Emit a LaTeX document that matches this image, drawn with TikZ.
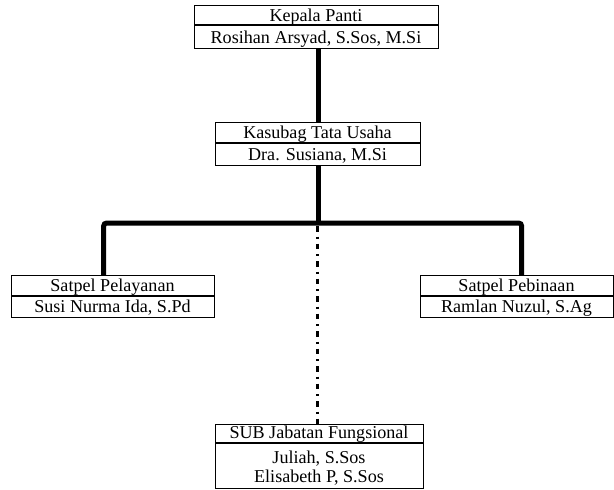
\documentclass[tikz,border=0pt]{standalone}
\usepackage{fontspec}
\setmainfont{Liberation Serif}
\begin{document}
\begin{tikzpicture}[x=1pt,y=-1pt,
  box/.style={draw, line width=1.3pt, inner sep=0pt, anchor=north west},
  divider/.style={line width=1.3pt},
  txt/.style={inner sep=0pt, anchor=base, font=\fontsize{18.1}{20}\selectfont},
  conn/.style={line width=5pt},
  dotline/.style={line width=2.2pt, dash pattern=on 5.5pt off 5pt on 2pt off 5pt}]
\useasboundingbox (0,0) rectangle (614,490);
% boxes
\node[box, minimum width=244pt, minimum height=43pt] (kp) at (194,5) {};
\draw[divider] ([yshift=-20pt]kp.north west) -- ([yshift=-20pt]kp.north east);
\node[txt] (kp1) at (316,21.5) {Kepala Panti};
\node[txt] (kp2) at (316,43) {Rosihan Arsyad, S.Sos, M.Si};

\node[box, minimum width=205pt, minimum height=43pt] (ks) at (215,122) {};
\draw[divider] ([yshift=-21pt]ks.north west) -- ([yshift=-21pt]ks.north east);
\node[txt] (ks1) at (317.5,138.5) {Kasubag Tata Usaha};
\node[txt] (ks2) at (317.5,160) {Dra. Susiana, M.Si};

\node[box, minimum width=203pt, minimum height=42pt] (sp) at (11,275) {};
\draw[divider] ([yshift=-21pt]sp.north west) -- ([yshift=-21pt]sp.north east);
\node[txt] (sp1) at (112.5,291.5) {Satpel Pelayanan};
\node[txt] (sp2) at (112.5,312.5) {Susi Nurma Ida, S.Pd};

\node[box, minimum width=193pt, minimum height=42pt] (sb) at (420,275) {};
\draw[divider] ([yshift=-21pt]sb.north west) -- ([yshift=-21pt]sb.north east);
\node[txt] (sb1) at (516.5,291.5) {Satpel Pebinaan};
\node[txt] (sb2) at (516.5,312.5) {Ramlan Nuzul, S.Ag};

\node[box, minimum width=208pt, minimum height=64pt] (sj) at (215,424) {};
\draw[divider] ([yshift=-19pt]sj.north west) -- ([yshift=-19pt]sj.north east);
\node[txt] (sj1) at (319,438.5) {SUB Jabatan Fungsional};
\node[txt] (sj2) at (319,463) {Juliah, S.Sos};
\node[txt] (sj3) at (319,482) {Elisabeth P, S.Sos};

% connectors
\coordinate (bar) at (317.5,223);
\draw[conn] (ks.north) -- (ks.north |- kp.south);
\draw[conn] (ks.south) -- (ks.south |- bar);
\draw[conn, rounded corners=3pt] ([xshift=-9.5pt]sp.north) |- (bar) -| ([xshift=4.5pt]sb.north);
\draw[dotline] ([yshift=-3pt]bar) -- (bar |- sj.north);
\end{tikzpicture}
\end{document}
